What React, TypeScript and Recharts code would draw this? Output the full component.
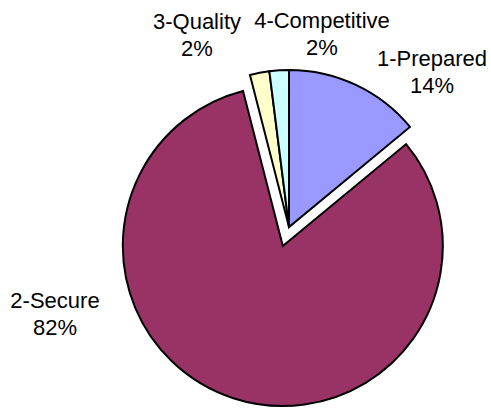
import { PieChart, Pie, Cell } from 'recharts'

const categories = ['1-Prepared', '2-Secure', '3-Quality', '4-Competitive']
const shares = [14, 82, 2, 2]
const COLORS = ['#9999FF', '#993366', '#FFFFCC', '#CCFFFF']
const EXPLODED = 1

// label anchor offsets from the pie centre (centre x, first baseline)
const LABEL_OFFSETS: Array<[number, number]> = [
  [143, -161],
  [-234, 81],
  [-92, -198],
  [33, -199],
]

const data = categories.map((name, i) => ({ name, value: shares[i] }))

const CX = 289
const CY = 227
const R = 157
const EXPLODE = 20

// direction of the exploded slice's middle, clockwise from 12 o'clock
const total = shares.reduce((s, v) => s + v, 0)
const before = shares.slice(0, EXPLODED).reduce((s, v) => s + v, 0)
const midRad = ((before + shares[EXPLODED] / 2) / total) * 2 * Math.PI
const EX_CX = CX + EXPLODE * Math.sin(midRad)
const EX_CY = CY - EXPLODE * Math.cos(midRad)

const FONT = 'Arial, "Liberation Sans", sans-serif'

function renderLabel(props: any) {
  const { index, percent } = props
  const [dx, dy] = LABEL_OFFSETS[index]
  const x = CX + dx
  const y = CY + dy
  return (
    <text
      x={x}
      y={y}
      textAnchor="middle"
      fontSize={22}
      fontFamily={FONT}
      fill="#000"
    >
      <tspan x={x} y={y}>{categories[index]}</tspan>
      <tspan x={x} y={y + 26.5}>{`${Math.round(percent * 100)}%`}</tspan>
    </text>
  )
}

export default function App() {
  return (
    <div style={{ position: 'absolute', left: 0, top: 0, background: '#fff' }}>
      <PieChart width={491} height={410} margin={{ top: 0, right: 0, bottom: 0, left: 0 }}>
        <Pie
          data={data}
          dataKey="value"
          nameKey="name"
          cx={CX}
          cy={CY}
          outerRadius={R}
          startAngle={90}
          endAngle={-270}
          stroke="#000"
          strokeWidth={2}
          label={renderLabel}
          labelLine={false}
          isAnimationActive={false}
        >
          {data.map((_, i) => (
            <Cell
              key={`cell-${i}`}
              fill={i === EXPLODED ? 'none' : COLORS[i]}
              stroke={i === EXPLODED ? 'none' : '#000'}
            />
          ))}
        </Pie>
        <Pie
          data={data}
          dataKey="value"
          nameKey="name"
          cx={EX_CX}
          cy={EX_CY}
          outerRadius={R + 3}
          startAngle={90}
          endAngle={-270}
          strokeWidth={2}
          isAnimationActive={false}
        >
          {data.map((_, i) => (
            <Cell
              key={`ex-${i}`}
              fill={i === EXPLODED ? COLORS[i] : 'none'}
              stroke={i === EXPLODED ? '#000' : 'none'}
            />
          ))}
        </Pie>
      </PieChart>
    </div>
  )
}
